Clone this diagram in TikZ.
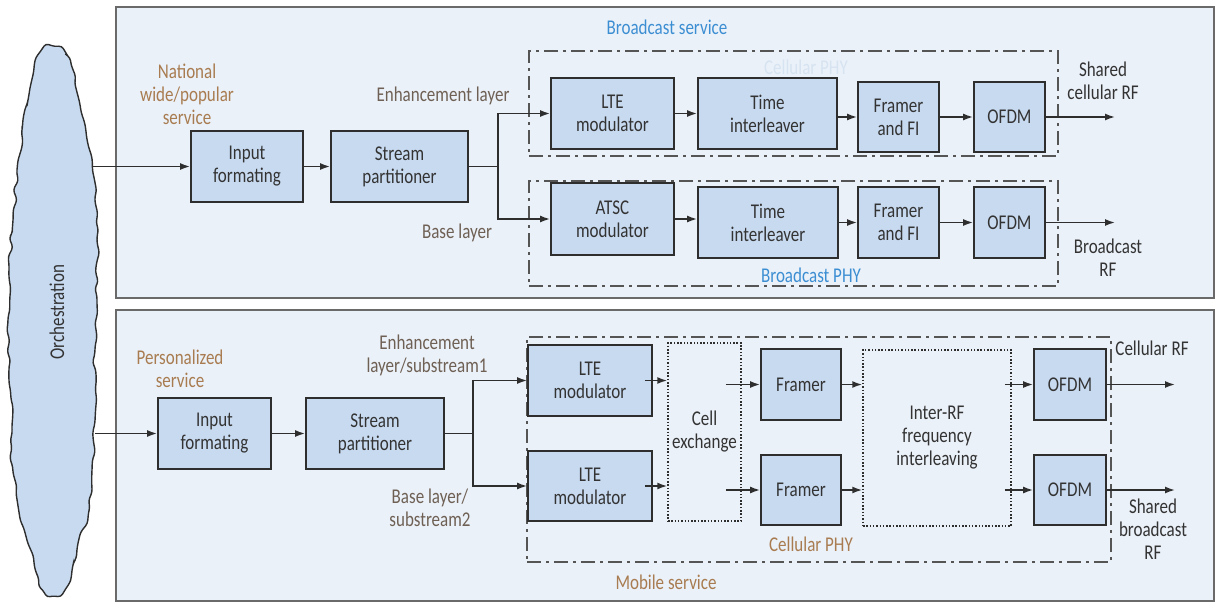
\documentclass[tikz,border=0pt]{standalone}
\usepackage{fontspec}
\setmainfont{Carlito}[FakeStretch=0.81]
\usetikzlibrary{arrows.meta,calc,decorations.pathmorphing}

\definecolor{panelfill}{HTML}{EBF1F9}
\definecolor{panelline}{HTML}{6A6A6A}
\definecolor{boxfill}{HTML}{C8DAF0}
\definecolor{boxline}{HTML}{2E2E2E}
\definecolor{txt}{HTML}{333333}
\definecolor{tan}{HTML}{A87C50}
\definecolor{taupe}{HTML}{6E6054}
\definecolor{svcblue}{HTML}{3C8ED2}
\definecolor{ghost}{HTML}{D6E3F1}
\definecolor{phyline}{HTML}{555555}

\tikzset{
  panel/.style={draw=panelline, fill=panelfill, line width=2pt, inner sep=0pt},
  block/.style={draw=boxline, fill=boxfill, line width=1.8pt, align=center, inner sep=0pt, text=txt},
  physpan/.style={draw=phyline, line width=2pt, dash pattern=on 14pt off 5pt on 3pt off 5pt, inner sep=0pt},
  dotspan/.style={draw=boxline, line width=1.5pt, dash pattern=on 1.5pt off 1.8pt, align=center, inner sep=0pt, text=txt},
  conn/.style={draw=boxline, line width=1.6pt},
  arr/.style={conn, -{Latex[length=10pt,width=7pt]}},
  lbl/.style={align=center, inner sep=0pt},
}

\begin{document}
\begin{tikzpicture}[x=1pt, y=-1pt, font=\fontsize{21}{23}\selectfont, text=txt]
\useasboundingbox (0,0) rectangle (1215,603);

% ---------- service panels ----------
\node[panel, minimum width=1098pt, minimum height=291pt] (panB) at (665,152.5) {};
\node[panel, minimum width=1098pt, minimum height=291pt] (panM) at (665,455.5) {};

% ---------- orchestration cloud ----------
\pgfmathsetseed{11}
\draw[draw=boxline, fill=boxfill, line width=1.4pt, rounded corners=3pt,
      decorate, decoration={random steps, segment length=9pt, amplitude=2.6pt}]
  plot[smooth cycle, tension=0.55] coordinates {
    (52,47) (63,52) (70,62) (74,80) (79,100) (85,125) (92,160) (95,200)
    (97,240) (97,300) (95,350) (95,420) (92,470) (89,510) (80,535) (73,565)
    (68,585) (55,595) (45,592) (40,582) (35,567) (27,540) (18,505) (13,470)
    (12,430) (9,380) (8,320) (9,270) (13,220) (17,170) (22,130) (28,100)
    (33,75) (38,55)};
\node[rotate=90, lbl] (orch) at (57,312) {Orchestration};
\coordinate (orchT) at (93,166.5);
\coordinate (orchM) at (95,433.5);

% ---------- broadcast service ----------
\node[lbl, text=svcblue] (bsvc) at (667,27) {Broadcast service};
\node[physpan, minimum width=529pt, minimum height=105pt] (phyC) at (793.5,103.5) {};
\node[physpan, minimum width=529pt, minimum height=105pt] (phyB) at (793.5,233.5) {};
\node[lbl, text=ghost] (phyCl) at (806,67) {Cellular PHY};
\node[lbl, text=svcblue] (phyBl) at (811,275) {Broadcast PHY};

\node[lbl, text=tan] (natl) at (187,94) {National\\wide/popular\\service};
\node[lbl, text=taupe] (enhB) at (443,96) {Enhancement layer};
\node[lbl, text=taupe] (baseB) at (457,233) {Base layer};

\node[block, minimum width=112pt, minimum height=71pt] (inB) at (247,166.5) {Input\\formating};
\node[block, minimum width=137pt, minimum height=71pt] (spB) at (399.5,166.5) {Stream\\partitioner};

\node[block, minimum width=123pt, minimum height=71pt] (lteB) at (612.5,113.5) {LTE\\modulator};
\node[block, minimum width=139pt, minimum height=71pt] (tiB) at (767.5,113.5) {Time\\interleaver};
\node[block, minimum width=81pt, minimum height=70pt] (frB) at (898.5,117) {Framer\\and FI};
\node[block, minimum width=71pt, minimum height=70pt] (ofB) at (1009.5,117) {OFDM};

\node[block, minimum width=123pt, minimum height=72pt] (atB) at (612.5,219) {ATSC\\modulator};
\node[block, minimum width=140pt, minimum height=71pt] (ti2B) at (768,222.5) {Time\\interleaver};
\node[block, minimum width=81pt, minimum height=71pt] (fr2B) at (898.5,222.5) {Framer\\and FI};
\node[block, minimum width=71pt, minimum height=71pt] (of2B) at (1009.5,222.5) {OFDM};

\node[lbl] (rfC) at (1103,81) {Shared\\cellular RF};
\node[lbl] (rfB) at (1108,257.5) {Broadcast\\RF};
\coordinate (outB1) at (1115,117);
\coordinate (outB2) at (1115,222.5);

\draw[arr] (orchT) -- (inB.west);
\draw[arr] (inB) -- (spB);
\draw[conn] (spB.east) -- ++(29,0) coordinate (brB);
\draw[arr] (brB) |- (lteB.west);
\draw[arr] (brB) |- (atB.west);
\draw[arr] (lteB) -- (tiB);
\draw[arr] (frB.west -| tiB.east) -- (frB.west);
\draw[arr] (frB) -- (ofB);
\draw[arr] (ofB) -- (outB1);
\draw[arr] (atB.east) -- (atB.east -| ti2B.west);
\draw[arr] (ti2B) -- (fr2B);
\draw[arr] (fr2B) -- (of2B);
\draw[arr] (of2B) -- (outB2);

% ---------- mobile service ----------
\node[physpan, minimum width=584pt, minimum height=225pt] (phyM) at (819,449.5) {};
\node[lbl, text=tan] (phyMl) at (811,544) {Cellular PHY};
\node[lbl, text=tan] (msvc) at (666,582) {Mobile service};

\node[lbl, text=tan] (pers) at (180,368.5) {Personalized\\service};
\node[lbl, text=taupe] (enhM) at (427,355) {Enhancement\\layer/substream1};
\node[lbl, text=taupe] (baseM) at (430,508) {Base layer/\\substream2};

\node[block, minimum width=113pt, minimum height=71pt] (inM) at (214.5,433.5) {Input\\formating};
\node[block, minimum width=138pt, minimum height=71pt] (spM) at (375,433.5) {Stream\\partitioner};

\node[block, minimum width=124pt, minimum height=71pt] (lteM1) at (590,380.5) {LTE\\modulator};
\node[block, minimum width=124pt, minimum height=70pt] (lteM2) at (590,486) {LTE\\modulator};
\node[dotspan, minimum width=73pt, minimum height=178pt] (cellx) at (704.5,432) {Cell\\exchange};
\node[block, minimum width=80pt, minimum height=71pt] (frM1) at (801,384.5) {Framer};
\node[block, minimum width=80pt, minimum height=70pt] (frM2) at (801,490) {Framer};
\node[dotspan, minimum width=148pt, minimum height=176pt] (irf) at (937,438) {Inter-RF\\frequency\\interleaving};
\node[block, minimum width=72pt, minimum height=71pt] (ofM1) at (1070,384.5) {OFDM};
\node[block, minimum width=72pt, minimum height=70pt] (ofM2) at (1070,490) {OFDM};

\node[lbl] (rfMC) at (1152,348) {Cellular RF};
\node[lbl] (rfMB) at (1153,529) {Shared\\broadcast\\RF};
\coordinate (outM1) at (1175,384.5);
\coordinate (outM2) at (1175,490);

\draw[arr] (orchM) -- (inM.west);
\draw[arr] (inM) -- (spM);
\draw[conn] (spM.east) -- ++(28,0) coordinate (brM);
\draw[arr] (brM) |- (lteM1.west);
\draw[arr] (brM) |- (lteM2.west);
\draw[arr] ([xshift=-8pt]lteM1.east) -- (lteM1.east -| cellx.west);
\draw[arr] ([xshift=-8pt]lteM2.east) -- (lteM2.east -| cellx.west);
\draw[arr] ($(cellx.east |- frM1.west)+(-16,0)$) -- (frM1.west);
\draw[arr] ($(cellx.east |- frM2.west)+(-16,0)$) -- (frM2.west);
\draw[arr] (frM1.east) -- (frM1.east -| irf.west);
\draw[arr] (frM2.east) -- (frM2.east -| irf.west);
\draw[arr] ($(irf.east |- ofM1.west)+(-7,0)$) -- (ofM1.west);
\draw[arr] ($(irf.east |- ofM2.west)+(-7,0)$) -- (ofM2.west);
\draw[arr] (ofM1) -- (outM1);
\draw[arr] (ofM2) -- (outM2);
\end{tikzpicture}
\end{document}
